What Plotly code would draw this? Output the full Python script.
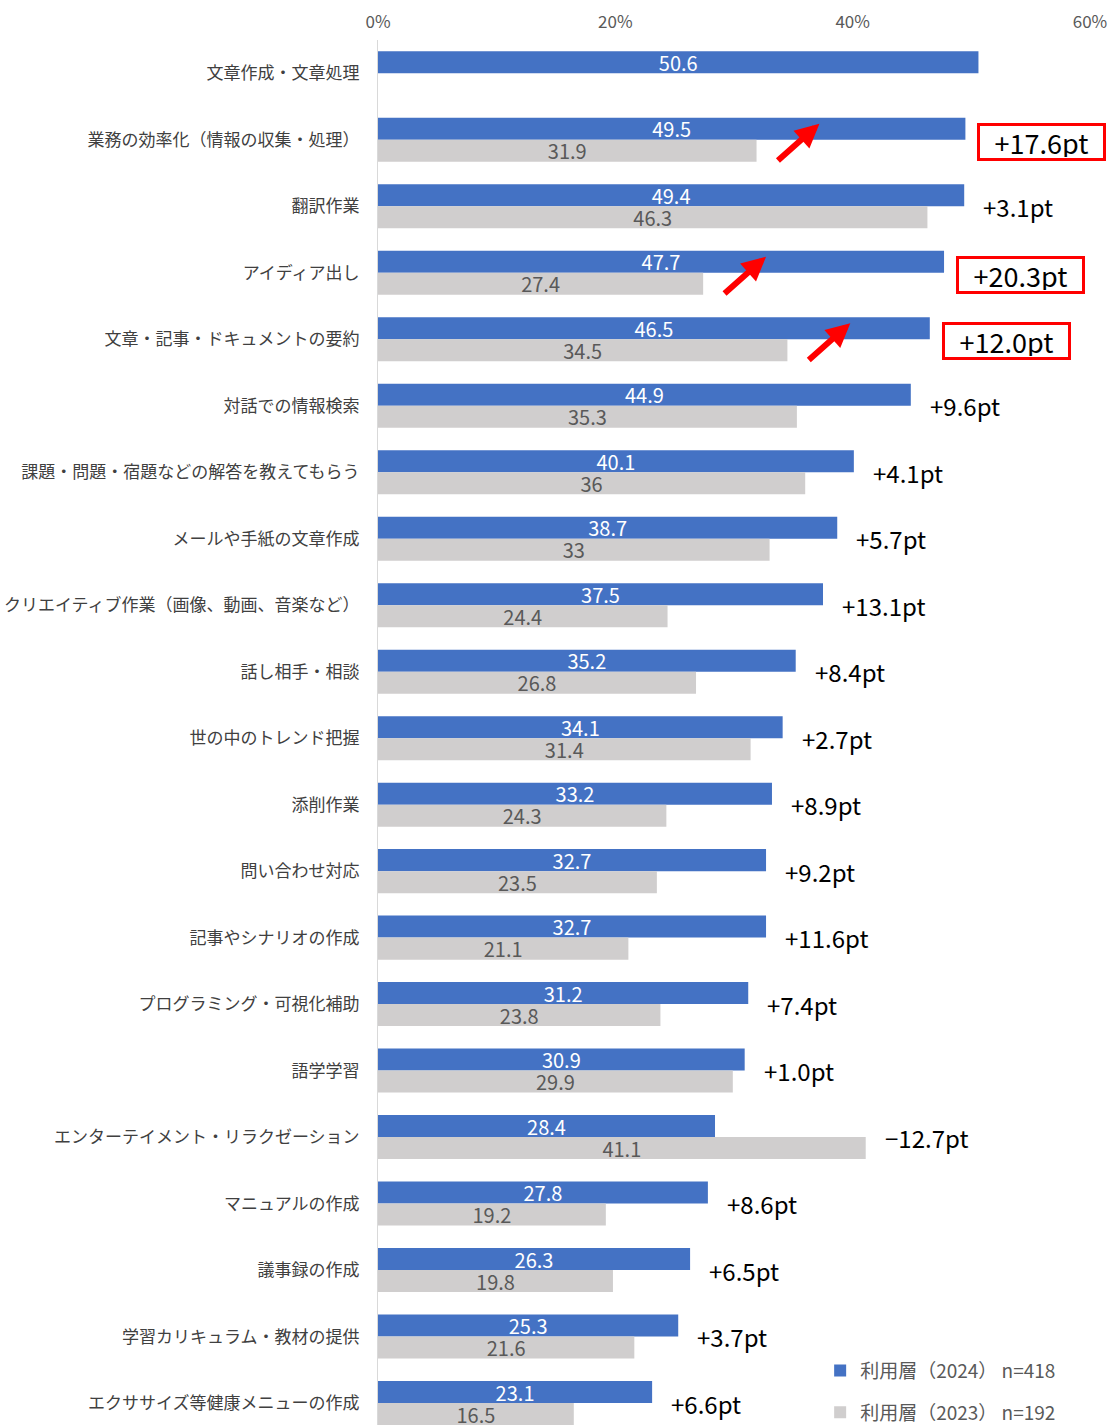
import plotly.graph_objects as go

categories = [
    "文章作成・文章処理",
    "業務の効率化（情報の収集・処理）",
    "翻訳作業",
    "アイディア出し",
    "文章・記事・ドキュメントの要約",
    "対話での情報検索",
    "課題・問題・宿題などの解答を教えてもらう",
    "メールや手紙の文章作成",
    "クリエイティブ作業（画像、動画、音楽など）",
    "話し相手・相談",
    "世の中のトレンド把握",
    "添削作業",
    "問い合わせ対応",
    "記事やシナリオの作成",
    "プログラミング・可視化補助",
    "語学学習",
    "エンターテイメント・リラクゼーション",
    "マニュアルの作成",
    "議事録の作成",
    "学習カリキュラム・教材の提供",
    "エクササイズ等健康メニューの作成",
]
v2024 = [50.6, 49.5, 49.4, 47.7, 46.5, 44.9, 40.1, 38.7, 37.5, 35.2, 34.1,
         33.2, 32.7, 32.7, 31.2, 30.9, 28.4, 27.8, 26.3, 25.3, 23.1]
v2023 = [None, 31.9, 46.3, 27.4, 34.5, 35.3, 36, 33, 24.4, 26.8, 31.4,
         24.3, 23.5, 21.1, 23.8, 29.9, 41.1, 19.2, 19.8, 21.6, 16.5]
diff_labels = ["", "+17.6pt", "+3.1pt", "+20.3pt", "+12.0pt", "+9.6pt", "+4.1pt",
               "+5.7pt", "+13.1pt", "+8.4pt", "+2.7pt", "+8.9pt", "+9.2pt",
               "+11.6pt", "+7.4pt", "+1.0pt", "−12.7pt", "+8.6pt", "+6.5pt",
               "+3.7pt", "+6.6pt"]
highlighted = ["業務の効率化（情報の収集・処理）", "アイディア出し", "文章・記事・ドキュメントの要約"]
x_ticks = [0, 20, 40, 60]
x_tick_labels = ["0%", "20%", "40%", "60%"]
legend_2024 = "利用層（2024） n=418"
legend_2023 = "利用層（2023） n=192"

FONT = "Noto Sans CJK JP"
BLUE = "#4472C4"
GREY = "#D0CECE"

fig = go.Figure()
fig.add_trace(go.Bar(
    y=categories, x=v2024, orientation="h", name=legend_2024,
    marker=dict(color=BLUE, line=dict(width=0)),
    text=[str(v) for v in v2024], textposition="inside", insidetextanchor="middle",
    textangle=0, constraintext="none",
    textfont=dict(color="#FFFFFF", size=20, family=FONT),
    legendgroup="a",
))
fig.add_trace(go.Bar(
    y=categories, x=v2023, orientation="h", name=legend_2023,
    marker=dict(color=GREY, line=dict(width=0)),
    text=["" if v is None else str(v) for v in v2023], textposition="inside",
    insidetextanchor="middle", textangle=0, constraintext="none",
    textfont=dict(color="#595959", size=20, family=FONT),
    legendgroup="b",
))

annotations = []
for cat, a, b, lab in zip(categories, v2024, v2023, diff_labels):
    if not lab:
        continue
    xm = max(a, b if b is not None else 0)
    boxed = cat in highlighted
    ann = dict(
        x=xm, y=cat, xref="x", yref="y", text=lab, showarrow=False,
        xanchor="left", yanchor="middle",
        font=dict(size=24, color="#000000", family=FONT),
    )
    if boxed:
        ann.update(xshift=12, yshift=-2, bordercolor="#FF0000", borderwidth=3, borderpad=1,
                   width=121, height=30, align="center", valign="middle",
                   font=dict(size=27, color="#000000", family=FONT))
    else:
        ann.update(xshift=17)
    annotations.append(ann)
    if boxed:
        annotations.append(dict(
            x=b + 5.3, y=cat, xref="x", yref="y", yshift=16, text="",
            showarrow=True, arrowhead=2, arrowsize=0.8, arrowwidth=6,
            arrowcolor="#FF0000", ax=-43, ay=38, axref="pixel", ayref="pixel",
            standoff=0,
        ))

fig.update_layout(
    width=1109, height=1425,
    margin=dict(l=378, r=19, t=40, b=0, autoexpand=False),
    paper_bgcolor="#FFFFFF", plot_bgcolor="#FFFFFF",
    barmode="group", bargap=0.338, bargroupgap=0,
    font=dict(family=FONT, color="#404040"),
    annotations=annotations,
    showlegend=True,
    legend=dict(
        x=0.621, y=0.053, xanchor="left", yanchor="top",
        bgcolor="rgba(0,0,0,0)", traceorder="grouped", tracegroupgap=14,
        font=dict(size=19, color="#595959", family=FONT),
        itemwidth=30,
    ),
)
fig.update_xaxes(
    range=[0, 60], side="top", tickvals=x_ticks, ticktext=x_tick_labels,
    showgrid=False, zeroline=False, showline=False, ticks="", automargin=False,
    tickfont=dict(size=17, color="#595959", family=FONT), ticklabelstandoff=8,
)
fig.update_yaxes(
    type="category", categoryorder="array", categoryarray=categories,
    range=[20.33, -0.5], showgrid=False, zeroline=False, automargin=False,
    showline=True, linecolor="#D9D9D9", linewidth=1, ticks="",
    tickfont=dict(size=17, color="#404040", family=FONT), ticklabelstandoff=14,
)

fig.write_html("out.html", config={"displayModeBar": False},
               post_script="document.body.style.margin='0';document.body.style.overflow='hidden';")
